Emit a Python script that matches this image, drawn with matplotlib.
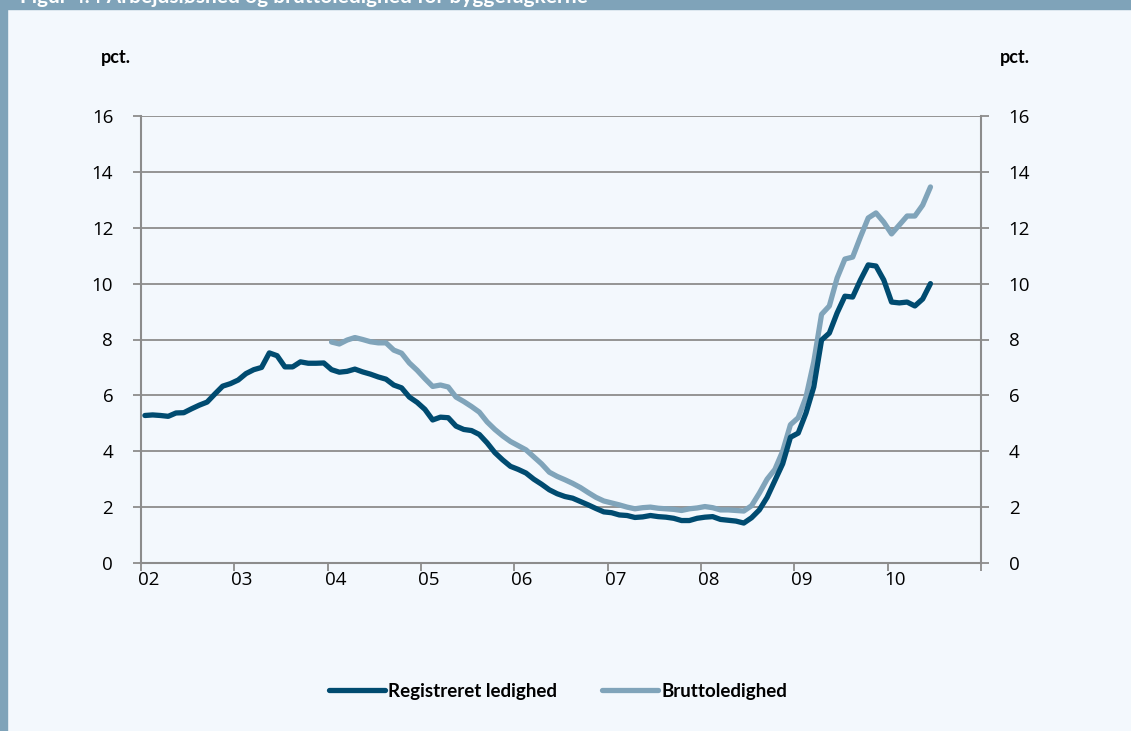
import numpy as np
import matplotlib.pyplot as plt
from matplotlib.patches import Rectangle

# månedlige data, jan 2002 - jun 2010 (pct.)
registreret = [5.28, 5.30, 5.28, 5.25, 5.37, 5.38, 5.52, 5.65, 5.76, 6.05,
               6.33, 6.42, 6.55, 6.78, 6.92, 7.00, 7.52, 7.42, 7.02, 7.02,
               7.20, 7.15, 7.15, 7.16, 6.92, 6.83, 6.86, 6.94, 6.84, 6.76,
               6.66, 6.58, 6.37, 6.27, 5.94, 5.75, 5.50, 5.12, 5.22, 5.20,
               4.90, 4.78, 4.74, 4.60, 4.30, 3.95, 3.69, 3.46, 3.35, 3.22,
               3.00, 2.82, 2.62, 2.48, 2.38, 2.32, 2.20, 2.08, 1.95, 1.83,
               1.80, 1.72, 1.70, 1.63, 1.65, 1.70, 1.66, 1.64, 1.60, 1.52,
               1.52, 1.60, 1.64, 1.66, 1.56, 1.53, 1.50, 1.43, 1.62, 1.90,
               2.35, 2.95, 3.55, 4.50, 4.65, 5.37, 6.30, 7.98, 8.23, 8.95,
               9.55, 9.52, 10.13, 10.67, 10.63, 10.13, 9.34, 9.31, 9.34, 9.20,
               9.45, 10.00]
# bruttoledighed starter jan 2004
brutto_start = 24
brutto = [7.91, 7.84, 7.98, 8.07, 8.00, 7.92, 7.88, 7.88, 7.62, 7.51,
          7.16, 6.90, 6.60, 6.32, 6.37, 6.30, 5.94, 5.78, 5.60, 5.40,
          5.05, 4.78, 4.55, 4.35, 4.20, 4.05, 3.80, 3.55, 3.25, 3.10,
          2.98, 2.85, 2.70, 2.52, 2.35, 2.22, 2.15, 2.08, 2.00, 1.94,
          1.98, 2.00, 1.96, 1.94, 1.92, 1.88, 1.94, 1.97, 2.02, 1.98,
          1.90, 1.90, 1.88, 1.86, 2.05, 2.50, 3.00, 3.35, 4.00, 4.95,
          5.20, 5.94, 7.20, 8.90, 9.20, 10.20, 10.88, 10.95, 11.67, 12.35,
          12.53, 12.20, 11.78, 12.10, 12.42, 12.42, 12.81, 13.46]
aar = ['02', '03', '04', '05', '06', '07', '08', '09', '10']

bg = '#f3f8fd'
frame = '#7fa3b9'
dark = '#004b70'
light = '#80a4ba'
grey = '#8c8c8c'

fig = plt.figure(figsize=(11.31, 7.31), dpi=100, facecolor=bg)
# banner og venstre kant
fig.patches.append(Rectangle((0, 1 - 9 / 731), 1, 9 / 731, transform=fig.transFigure,
                             color=frame, zorder=0))
fig.patches.append(Rectangle((0, 0), 7 / 1131, 1, transform=fig.transFigure,
                             color=frame, zorder=0))
fig.text(20 / 1131, 1 + 3 / 731, 'Figur 4.4 Arbejdsløshed og bruttoledighed for byggefagkerne',
         color='white', fontsize=15, fontweight='bold', family='Lato', va='center')

ax = fig.add_axes([141 / 1131, 168 / 731, 840 / 1131, 447 / 731], facecolor=bg)
x1 = np.arange(len(registreret))
x2 = np.arange(brutto_start, brutto_start + len(brutto))
ax.plot(x1, registreret, color=dark, lw=3.8, solid_capstyle='round', solid_joinstyle='round',
        label='Registreret ledighed', zorder=4)
ax.plot(x2, brutto, color=light, lw=3.8, solid_capstyle='round', solid_joinstyle='round',
        label='Bruttoledighed', zorder=3)

ax.set_xlim(-0.5, 107.5)
ax.set_ylim(0, 16)
ax.set_yticks(range(0, 17, 2))
ax.yaxis.grid(True, color=grey, lw=1.3)
ax.set_axisbelow(True)
ax.spines['top'].set_visible(False)
for s in ['left', 'right', 'bottom']:
    ax.spines[s].set_color(grey)
    ax.spines[s].set_linewidth(1.5)

ax.set_xticks(np.arange(10) * 12 - 0.5)
ax.set_xticklabels([])
ax.set_xticks(np.arange(9) * 12 + 0.5, minor=True)
ax.set_xticklabels(aar, minor=True)
ax.tick_params(axis='x', which='major', length=6, width=1.3, color=grey)
ax.tick_params(axis='x', which='minor', length=0, pad=6, labelsize=13.5)
ax.tick_params(axis='y', length=6, width=1.3, color=grey, labelsize=13.5, pad=14)

ax2 = ax.twinx()
ax2.set_ylim(0, 16)
ax2.set_yticks(range(0, 17, 2))
ax2.tick_params(axis='y', length=6, width=1.3, color=grey, labelsize=13.5, pad=14)
for s in ax2.spines.values():
    s.set_visible(False)

for lab in ax.get_xticklabels(minor=True) + ax.get_yticklabels() + ax2.get_yticklabels():
    lab.set_family('Open Sans')

fig.text(101 / 1131, 1 - 58 / 731, 'pct.', fontsize=13, fontweight='bold', family='Lato', va='center')
fig.text(1000 / 1131, 1 - 58 / 731, 'pct.', fontsize=13, fontweight='bold', family='Lato', va='center')

fig.legend(loc='center', bbox_to_anchor=(558 / 1131, 1 - 691 / 731), ncol=2, frameon=False,
           prop={'family': 'Lato', 'weight': 'bold', 'size': 13.5},
           handlelength=3.0, handletextpad=0.15, columnspacing=2.4)

fig.savefig('out.png', dpi=100, facecolor=bg)
